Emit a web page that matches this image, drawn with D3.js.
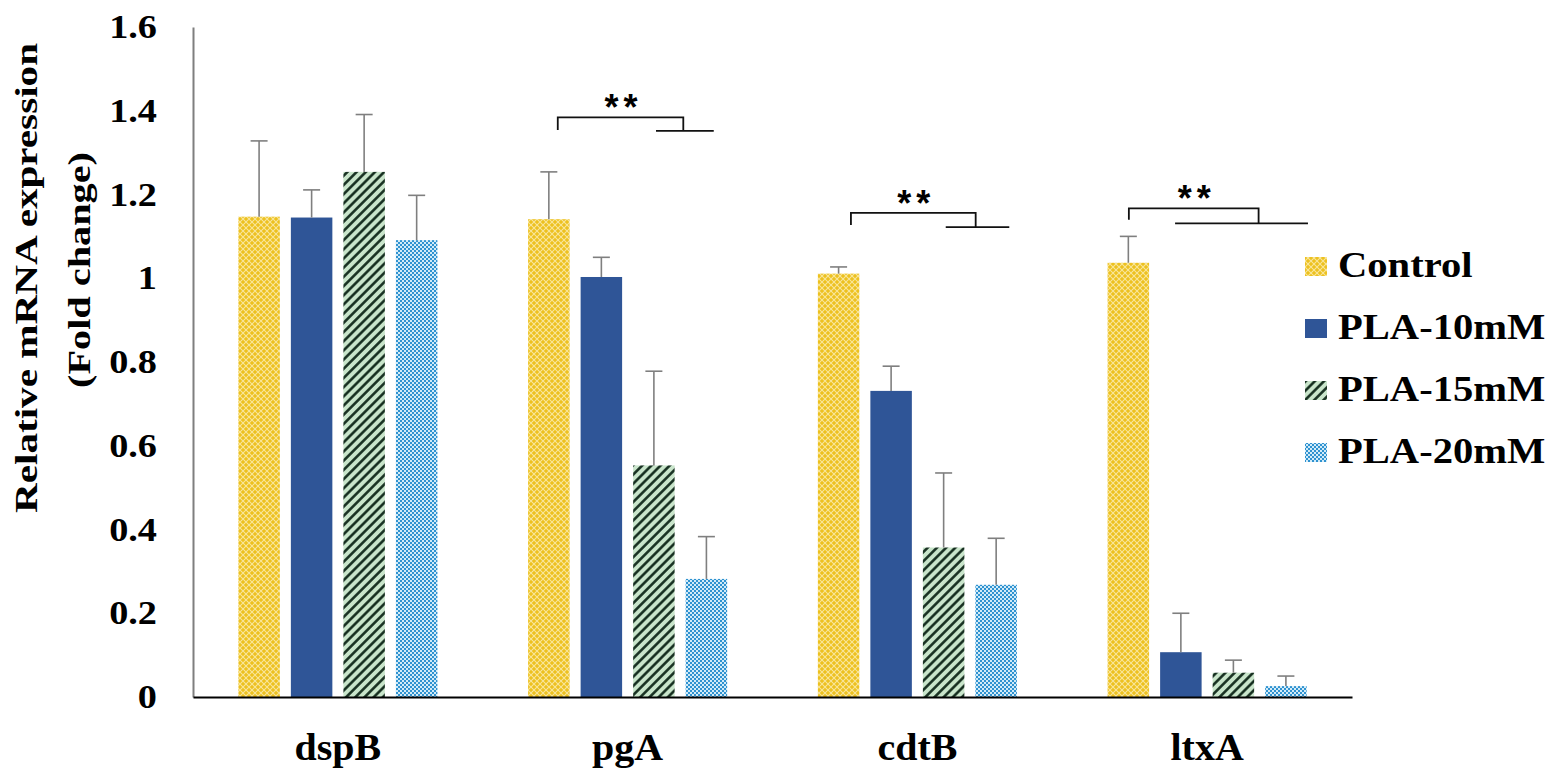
<!DOCTYPE html>
<html>
<head>
<meta charset="utf-8">
<script src="https://cdn.jsdelivr.net/npm/d3@7"></script>
<style>
  body { margin: 0; background: #fff; }
  text { font-family: "Liberation Serif", "Times New Roman", serif; font-weight: bold; fill: #000; }
</style>
</head>
<body>
<div id="chart"></div>
<script>
// chart data
var genes = ["dspB", "pgA", "cdtB", "ltxA"];
var series = ["Control", "PLA-10mM", "PLA-15mM", "PLA-20mM"];
var control = [1.147, 1.141, 1.011, 1.037];
var controlErr = [0.181, 0.113, 0.016, 0.063];
var pla10 = [1.145, 1.003, 0.731, 0.107];
var pla10Err = [0.066, 0.047, 0.059, 0.093];
var pla15 = [1.254, 0.553, 0.357, 0.058];
var pla15Err = [0.137, 0.225, 0.178, 0.030];
var pla20 = [1.091, 0.282, 0.268, 0.026];
var pla20Err = [0.107, 0.101, 0.111, 0.024];
var yTicks = [0, 0.2, 0.4, 0.6, 0.8, 1, 1.2, 1.4, 1.6];
var yTickLabels = ["0", "0.2", "0.4", "0.6", "0.8", "1", "1.2", "1.4", "1.6"];

// significance brackets (x in bar-index units inside the group, y in data units)
var sigGenes = ["pgA", "cdtB", "ltxA"];
var sigLeft = [0.17, 0.235, 0.01];
var sigRight = [2.56, 2.61, 2.48];
var sigLowFrom = [2.04, 2.04, 0.89];
var sigLowTo = [3.14, 3.25, 3.42];
var sigTop = [1.384, 1.156, 1.167];
var sigDrop = [1.354, 1.127, 1.140];
var sigLow = [1.352, 1.122, 1.131];
var sigLabel = "**";

var values = [control, pla10, pla15, pla20];
var errors = [controlErr, pla10Err, pla15Err, pla20Err];

var width = 1559, height = 782;
// note: "top" is reserved on window, so plot edges get their own names
var plotLeft = 193, plotRight = 1352, plotTop = 27, plotBottom = 697;

var svg = d3.select("#chart").append("svg")
  .attr("width", width).attr("height", height);

// fill patterns
var defs = svg.append("defs");

var pYellow = defs.append("pattern").attr("id", "pat0")
  .attr("patternUnits", "userSpaceOnUse").attr("width", 6).attr("height", 6);
pYellow.append("rect").attr("width", 6).attr("height", 6).attr("fill", "#edc11f");
pYellow.append("path").attr("d", "M0,0L6,6M6,0L0,6")
  .attr("stroke", "#f9e69a").attr("stroke-width", 1.1);

var pBlue = defs.append("pattern").attr("id", "pat1")
  .attr("patternUnits", "userSpaceOnUse").attr("width", 6).attr("height", 6);
pBlue.append("rect").attr("width", 6).attr("height", 6).attr("fill", "#2f5597");

var pGreen = defs.append("pattern").attr("id", "pat2")
  .attr("patternUnits", "userSpaceOnUse").attr("width", 6.5).attr("height", 6.5)
  .attr("patternTransform", "rotate(-45)");
pGreen.append("rect").attr("width", 6.5).attr("height", 6.5).attr("fill", "#c9e5cb");
pGreen.append("line").attr("x1", 0).attr("x2", 6.5).attr("y1", 3.25).attr("y2", 3.25)
  .attr("stroke", "#10281a").attr("stroke-width", 2.5);

var pCheck = defs.append("pattern").attr("id", "pat3")
  .attr("patternUnits", "userSpaceOnUse").attr("width", 4).attr("height", 4);
pCheck.append("rect").attr("width", 4).attr("height", 4).attr("fill", "#d2ebf8");
pCheck.append("rect").attr("width", 2).attr("height", 2).attr("fill", "#2f92d0");
pCheck.append("rect").attr("x", 2).attr("y", 2).attr("width", 2).attr("height", 2).attr("fill", "#2f92d0");

// scales
var x = d3.scaleBand().domain(genes).range([plotLeft, plotRight])
  .paddingInner(0.313).paddingOuter(0.1565);
var xs = d3.scaleBand().domain(series).range([0, x.bandwidth()]).paddingInner(0.21);
var y = d3.scaleLinear().domain([0, 1.6]).range([plotBottom, plotTop]);

function barCenter(g, idx) {
  return x(g) + idx * xs.step() + xs.bandwidth() / 2;
}

// bars
series.forEach(function (s, si) {
  var rows = genes.map(function (g, gi) {
    return { gene: g, v: values[si][gi], e: errors[si][gi] };
  });
  var grp = svg.append("g");
  grp.selectAll("rect")
    .data(rows)
    .enter()
    .append("rect")
    .attr("x", function (d) { return x(d.gene) + xs(s); })
    .attr("y", function (d) { return y(d.v); })
    .attr("width", xs.bandwidth())
    .attr("height", function (d) { return y(0) - y(d.v); })
    .attr("fill", "url(#pat" + si + ")");

  // upper error bars
  var eb = grp.selectAll("g.err").data(rows).enter().append("g")
    .attr("stroke", "#7f7f7f").attr("stroke-width", 1.6);
  eb.append("line")
    .attr("x1", function (d) { return x(d.gene) + xs(s) + xs.bandwidth() / 2; })
    .attr("x2", function (d) { return x(d.gene) + xs(s) + xs.bandwidth() / 2; })
    .attr("y1", function (d) { return y(d.v); })
    .attr("y2", function (d) { return y(d.v + d.e); });
  eb.append("line")
    .attr("x1", function (d) { return x(d.gene) + xs(s) + xs.bandwidth() / 2 - 8.5; })
    .attr("x2", function (d) { return x(d.gene) + xs(s) + xs.bandwidth() / 2 + 8.5; })
    .attr("y1", function (d) { return y(d.v + d.e); })
    .attr("y2", function (d) { return y(d.v + d.e); });
});

// y axis
var yAxis = svg.append("g")
  .attr("transform", "translate(" + plotLeft + ",0)")
  .call(d3.axisLeft(y).tickValues(yTicks)
    .tickFormat(function (d, i) { return yTickLabels[i]; })
    .tickSize(0).tickSizeOuter(0));
yAxis.select(".domain").attr("stroke", "#7f7f7f").attr("stroke-width", 2);
yAxis.selectAll("text")
  .attr("x", 0)
  .attr("transform", "translate(-36,0) scale(1.16,1)")
  .style("font-size", "33px")
  .style("font-family", "'Liberation Serif', serif")
  .style("font-weight", "bold")
  .attr("fill", "#000");

// x axis
var xAxis = svg.append("g")
  .attr("transform", "translate(0," + plotBottom + ")")
  .call(d3.axisBottom(x).tickSize(0).tickSizeOuter(0));
xAxis.select(".domain").attr("stroke", "#000").attr("stroke-width", 2);
xAxis.selectAll("text")
  .attr("y", 0).attr("dy", 0)
  .attr("transform", "translate(0,63) scale(1.08,1)")
  .style("font-size", "37px")
  .style("font-family", "'Liberation Serif', serif")
  .style("font-weight", "bold")
  .attr("fill", "#000");

// y axis title
var title = svg.append("g").attr("transform", "translate(0,278) rotate(-90)");
title.append("text")
  .attr("x", 0).attr("y", 37)
  .attr("text-anchor", "middle")
  .attr("textLength", 470).attr("lengthAdjust", "spacingAndGlyphs")
  .style("font-size", "32px")
  .text("Relative mRNA expression");
title.append("text")
  .attr("x", 8).attr("y", 90)
  .attr("text-anchor", "middle")
  .attr("textLength", 236).attr("lengthAdjust", "spacingAndGlyphs")
  .style("font-size", "32px")
  .text("(Fold change)");

// significance brackets
sigGenes.forEach(function (g, i) {
  var xl = barCenter(g, sigLeft[i]);
  var xr = barCenter(g, sigRight[i]);
  var path = d3.path();
  path.moveTo(xl, y(sigDrop[i]));
  path.lineTo(xl, y(sigTop[i]));
  path.lineTo(xr, y(sigTop[i]));
  path.lineTo(xr, y(sigLow[i]));
  path.moveTo(barCenter(g, sigLowFrom[i]), y(sigLow[i]));
  path.lineTo(barCenter(g, sigLowTo[i]), y(sigLow[i]));
  svg.append("path").attr("d", path.toString())
    .attr("fill", "none").attr("stroke", "#111").attr("stroke-width", 1.8);
  svg.append("text")
    .attr("x", (xl + xr) / 2 + 3).attr("y", y(sigTop[i]) + 3)
    .attr("text-anchor", "middle")
    .style("font-family", "'Liberation Sans', Arial, sans-serif")
    .style("font-size", "36px")
    .style("letter-spacing", "5px")
    .text(sigLabel);
});

// legend
var legend = svg.append("g");
series.forEach(function (s, i) {
  var by = 277 + i * 62;
  legend.append("rect")
    .attr("x", 1305).attr("y", by - 20)
    .attr("width", 22).attr("height", 19)
    .attr("fill", "url(#pat" + i + ")");
  legend.append("text")
    .attr("transform", "translate(1338," + by + ") scale(1.16,1)")
    .style("font-size", "35px")
    .text(s);
});
</script>
</body>
</html>
